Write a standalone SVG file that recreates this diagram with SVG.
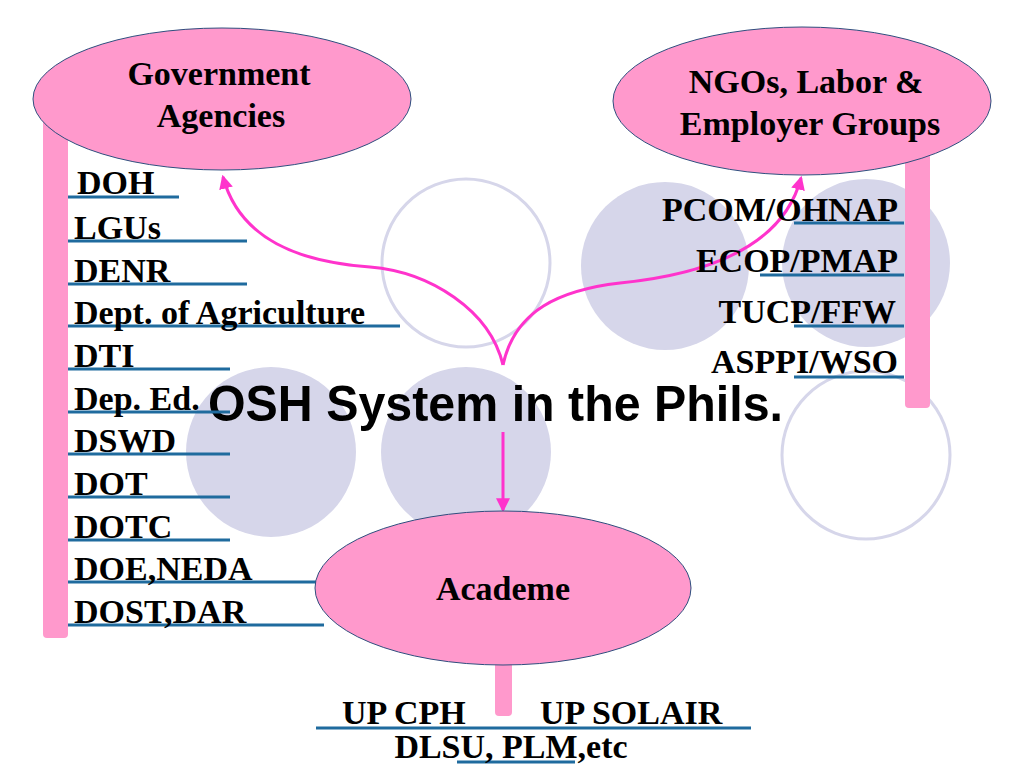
<svg xmlns="http://www.w3.org/2000/svg" width="1024" height="768" viewBox="0 0 1024 768">
<style>
.bg{fill:#FFFFFF}
.disc{fill:#D6D6EA}
.ring{fill:none;stroke:#D6D6EA;stroke-width:3}
.bar{fill:#FF99CC}
.oval{fill:#FF99CC;stroke:#2E4E7E;stroke-width:1}
.lbl{font-family:"Liberation Serif","Times New Roman",serif;font-weight:bold;font-size:34px;fill:#000000}
.ul{stroke:#1F6B9E;stroke-width:3}
.title{font-family:"Liberation Sans",Arial,sans-serif;font-weight:bold;font-size:50px;fill:#000000}
.conn{fill:none;stroke:#FF33CC;stroke-width:3}
</style>
<defs>
<marker id="arr" viewBox="0 0 12 12" refX="10" refY="6" markerWidth="14" markerHeight="14" markerUnits="userSpaceOnUse" orient="auto">
<path d="M0,0 L12,6 L0,12 Z" fill="#FF33CC"/>
</marker>
</defs>
<rect class="bg" x="0" y="0" width="1024" height="768"/>
<g id="background-circles">
<circle class="ring" cx="466" cy="263" r="84"/>
<circle class="disc" cx="665" cy="266" r="84"/>
<circle class="disc" cx="866" cy="263" r="84"/>
<circle class="disc" cx="271" cy="452" r="85"/>
<circle class="disc" cx="466" cy="452" r="85"/>
<circle class="ring" cx="866" cy="455" r="84"/>
</g>
<g id="title">
<text class="title" x="208" y="421" textLength="575" lengthAdjust="spacingAndGlyphs">OSH System in the Phils.</text>
</g>
<g id="connectors">
<path class="conn" d="M503,365 C490,310 430,272 370,267 C300,262 240,240 223,177" marker-end="url(#arr)"/>
<path class="conn" d="M503,365 C515,310 560,290 620,283 C700,275 782,250 801,178" marker-end="url(#arr)"/>
<path class="conn" d="M503,432 L503,510" marker-end="url(#arr)"/>
</g>
<g id="government-agencies">
<rect class="bar" x="43" y="110" width="25" height="528" rx="4"/>
<ellipse class="oval" cx="222" cy="99" rx="189" ry="71"/>
<text class="lbl" x="219" y="85" text-anchor="middle">Government</text>
<text class="lbl" x="221" y="127" text-anchor="middle">Agencies</text>
<g id="gov-list">
<line class="ul" x1="68" y1="197" x2="179" y2="197"/>
<line class="ul" x1="68" y1="241" x2="247" y2="241"/>
<line class="ul" x1="68" y1="284" x2="247" y2="284"/>
<line class="ul" x1="68" y1="326" x2="400" y2="326"/>
<line class="ul" x1="68" y1="369" x2="230" y2="369"/>
<line class="ul" x1="68" y1="412" x2="230" y2="412"/>
<line class="ul" x1="68" y1="454" x2="230" y2="454"/>
<line class="ul" x1="68" y1="497" x2="230" y2="497"/>
<line class="ul" x1="68" y1="540" x2="230" y2="540"/>
<line class="ul" x1="68" y1="582" x2="330" y2="582"/>
<line class="ul" x1="68" y1="625" x2="324" y2="625"/>
<text class="lbl" x="77" y="194">DOH</text>
<text class="lbl" x="74" y="239">LGUs</text>
<text class="lbl" x="74" y="282">DENR</text>
<text class="lbl" x="74" y="324">Dept. of Agriculture</text>
<text class="lbl" x="74" y="367">DTI</text>
<text class="lbl" x="74" y="410">Dep. Ed.</text>
<text class="lbl" x="74" y="452">DSWD</text>
<text class="lbl" x="74" y="495">DOT</text>
<text class="lbl" x="74" y="538">DOTC</text>
<text class="lbl" x="74" y="580">DOE,NEDA</text>
<text class="lbl" x="74" y="623">DOST,DAR</text>
</g>
</g>
<g id="ngo-labor-employer">
<rect class="bar" x="905" y="120" width="25" height="288" rx="4"/>
<ellipse class="oval" cx="802" cy="101" rx="189" ry="74"/>
<text class="lbl" x="806" y="93" text-anchor="middle">NGOs, Labor &amp;</text>
<text class="lbl" x="810" y="135" text-anchor="middle">Employer Groups</text>
<g id="ngo-list">
<line class="ul" x1="794" y1="223" x2="904" y2="223"/>
<line class="ul" x1="760" y1="275" x2="904" y2="275"/>
<line class="ul" x1="794" y1="326" x2="904" y2="326"/>
<line class="ul" x1="794" y1="377" x2="904" y2="377"/>
<text class="lbl" x="898" y="221" text-anchor="end">PCOM/OHNAP</text>
<text class="lbl" x="898" y="272" text-anchor="end">ECOP/PMAP</text>
<text class="lbl" x="896" y="323" text-anchor="end">TUCP/FFW</text>
<text class="lbl" x="898" y="373" text-anchor="end">ASPPI/WSO</text>
</g>
</g>
<g id="academe">
<rect class="bar" x="495" y="640" width="17" height="76" rx="4"/>
<ellipse class="oval" cx="503" cy="588" rx="188" ry="77"/>
<text class="lbl" x="503" y="600" text-anchor="middle">Academe</text>
<g id="academe-list">
<line class="ul" x1="316" y1="728" x2="751" y2="728"/>
<line class="ul" x1="457" y1="762" x2="575" y2="762"/>
<text class="lbl" x="342" y="724">UP CPH</text>
<text class="lbl" x="540" y="724">UP SOLAIR</text>
<text class="lbl" x="511" y="758" text-anchor="middle">DLSU, PLM,etc</text>
</g>
</g>
</svg>
